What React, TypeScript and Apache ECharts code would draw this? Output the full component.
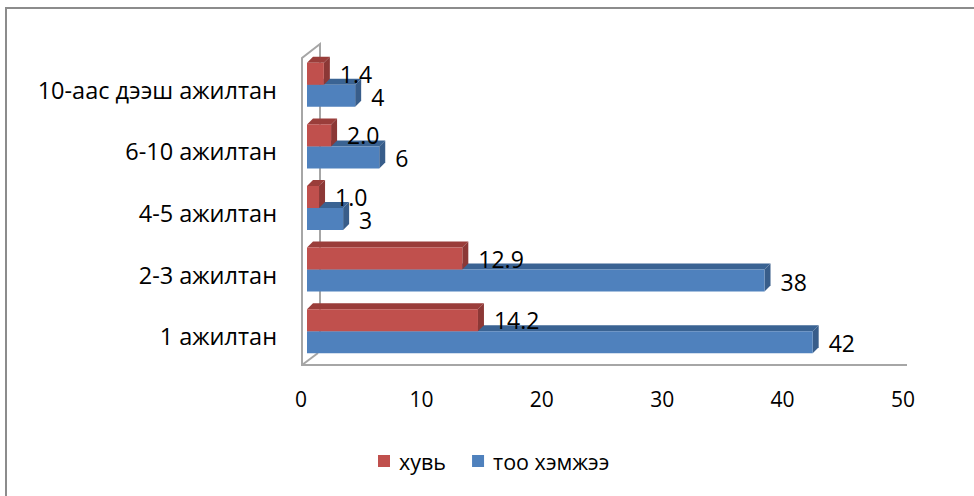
import React, { useEffect, useRef } from "react";
import * as echarts from "echarts";

const categories = ["1 ажилтан", "2-3 ажилтан", "4-5 ажилтан", "6-10 ажилтан", "10-аас дээш ажилтан"];
const shareValues = [14.2, 12.9, 1.0, 2.0, 1.4]; // хувь
const countValues = [42, 38, 3, 6, 4]; // тоо хэмжээ
const xTicks = { min: 0, max: 50, interval: 10 };

const FONT = "Open Sans";
const FS_CAT = 23.5;
const FS_LBL = 23;
const FS_TICK = 21;
const FS_LEG = 21.5;
const DX = 6;
const DY = -6;
const BAR_H = 22;

function bar3D(pos: "upper" | "lower", front: string, top: string, side: string, decimals: number) {
  return (params: any, api: any) => {
    const v = api.value(0);
    const ci = api.value(1);
    const end = api.coord([v, ci]);
    const start = api.coord([0, ci]);
    const c = end[1];
    const x0 = start[0];
    const x1 = end[0];
    const yTop = pos === "upper" ? c - BAR_H : c;
    const h = BAR_H;
    return {
      type: "group",
      children: [
        {
          type: "polygon",
          shape: { points: [[x0, yTop], [x0 + DX, yTop + DY], [x1 + DX, yTop + DY], [x1, yTop]] },
          style: { fill: top },
        },
        {
          type: "polygon",
          shape: { points: [[x1, yTop], [x1 + DX, yTop + DY], [x1 + DX, yTop + h + DY], [x1, yTop + h]] },
          style: { fill: side },
        },
        {
          type: "rect",
          shape: { x: x0, y: yTop, width: x1 - x0, height: h },
          style: { fill: front },
        },
        {
          type: "text",
          x: x1 + 16,
          y: yTop + h / 2 + (pos === "upper" ? 0 : 1),
          z2: 100,
          style: {
            text: v.toFixed(decimals),
            fill: "#000",
            font: `${FS_LBL}px "${FONT}"`,
            align: "left",
            verticalAlign: "middle",
          },
        },
      ],
    };
  };
}

export default function App() {
  const ref = useRef<HTMLDivElement>(null);
  useEffect(() => {
    const chart = echarts.init(ref.current!, null, { renderer: "svg" });
    const gray = "#a6a6a6";
    chart.setOption({
      animation: false,
      backgroundColor: "#fff",
      textStyle: { fontFamily: FONT },
      grid: { left: 307, right: 65, top: 54, height: 308 },
      xAxis: {
        type: "value",
        min: xTicks.min,
        max: xTicks.max,
        interval: xTicks.interval,
        axisLine: { show: false },
        axisTick: { show: false },
        splitLine: { show: false },
        axisLabel: { color: "#000", fontSize: FS_TICK, fontFamily: FONT, margin: 26, padding: [0, 12, 0, 0] },
      },
      yAxis: {
        type: "category",
        data: categories,
        axisLine: { show: false },
        axisTick: { show: false },
        axisLabel: {
          color: "#000",
          fontSize: FS_CAT,
          fontFamily: FONT,
          margin: 30,
          formatter: (v: string) => `{c|${v}}`,
          rich: { c: { fontSize: FS_CAT, fontFamily: FONT, color: "#000", padding: [10, 0, 0, 0] } },
        },
      },
      legend: {
        data: ["хувь", "тоо хэмжээ"],
        left: 378,
        top: 450,
        padding: 0,
        icon: "rect",
        itemWidth: 12,
        itemHeight: 12,
        itemGap: 26,
        textStyle: { color: "#000", fontSize: FS_LEG, fontFamily: FONT, padding: [0, 0, 0, 4] },
      },
      graphic: [
        { type: "rect", shape: { x: 6, y: 8, width: 1000, height: 600 }, style: { fill: "none", stroke: "#8c8c8c", lineWidth: 2 }, z: -10 },
        { type: "polyline", shape: { points: [[320, 353], [320, 44], [302, 58], [302, 365], [907, 365]] }, style: { fill: "none", stroke: gray, lineWidth: 2 }, z: -5 },
        { type: "line", shape: { x1: 302, y1: 365, x2: 318, y2: 353 }, style: { stroke: gray, lineWidth: 2 }, z: -5 },
      ],
      series: [
        {
          name: "тоо хэмжээ",
          type: "custom",
          itemStyle: { color: "#4F81BD" },
          encode: { x: 0, y: 1 },
          data: countValues.map((v, i) => [v, i]),
          renderItem: bar3D("lower", "#4F81BD", "#3A6393", "#385D8A", 0),
        },
        {
          name: "хувь",
          type: "custom",
          itemStyle: { color: "#C0504D" },
          encode: { x: 0, y: 1 },
          data: shareValues.map((v, i) => [v, i]),
          renderItem: bar3D("upper", "#C0504D", "#9A3D3A", "#8C3836", 1),
        },
      ],
    });
    return () => chart.dispose();
  }, []);
  return <div ref={ref} style={{ position: "absolute", left: 0, top: 0, width: 974, height: 496 }} />;
}
